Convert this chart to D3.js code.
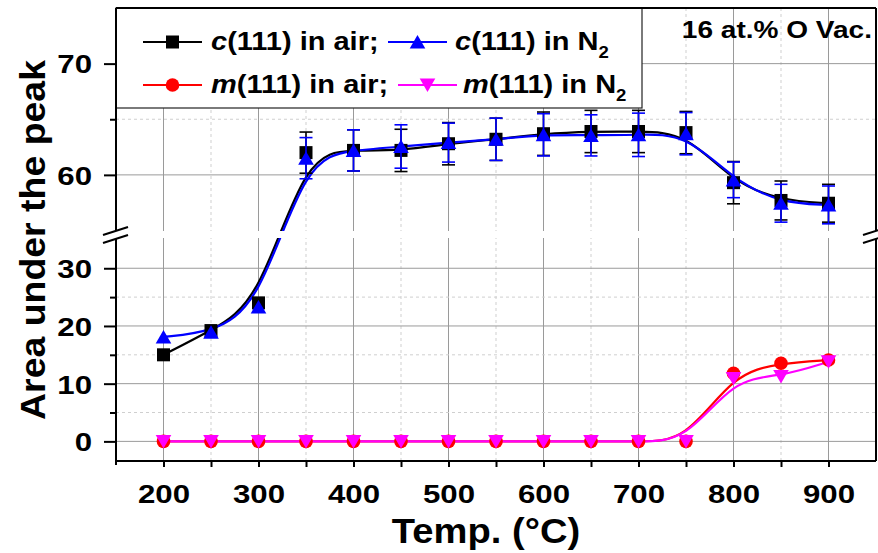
<!DOCTYPE html>
<html>
<head>
<meta charset="utf-8">
<script src="https://cdn.jsdelivr.net/npm/d3@7/dist/d3.min.js"></script>
<style>
  body { margin: 0; background: #fff; }
  text { font-family: "Liberation Sans", Arial, sans-serif; font-weight: bold; fill: #000; }
</style>
</head>
<body>
<div id="chart"></div>
<script>
// data
const temps  = [200, 250, 300, 350, 400, 450, 500, 550, 600, 650, 700, 750, 800, 850, 900];
const cAir    = [15, 19.2, 24, 62, 62.2, 62.2, 62.8, 63.2, 63.7, 63.9, 63.9, 63.8, 59.3, 57.7, 57.45];
const cAirErr = [0, 0, 0, 1.85, 1.85, 1.9, 1.9, 1.9, 1.95, 1.9, 1.9, 1.9, 1.9, 1.75, 1.7];
const cN2     = [18.1, 18.9, 23.3, 61.5, 62.2, 62.55, 62.9, 63.2, 63.6, 63.55, 63.6, 63.7, 59.55, 57.45, 57.3];
const cN2Err  = [0, 0, 0, 1.85, 1.85, 1.95, 1.75, 1.9, 1.9, 1.85, 1.95, 1.9, 1.6, 1.7, 1.7];
const mAir    = [0, 0, 0, 0, 0, 0, 0, 0, 0, 0, 0, 0, 11.8, 13.55, 14.1];
const mN2     = [0, 0, 0, 0, 0, 0, 0, 0, 0, 0, 0, 0, 10.9, 11.25, 13.8];

const xMajor = [200, 300, 400, 500, 600, 700, 800, 900];
const xMinor = [250, 350, 450, 550, 650, 750, 850];
const yMajorLow  = [0, 10, 20, 30];
const yMinorLow  = [5, 15, 25];
const yMajorHigh = [60, 70];
const yMinorHigh = [65];

const WIDTH = 878, HEIGHT = 553;
const P = {left: 116, right: 876, top: 8, bottom: 461, gapTop: 231, gapBottom: 238};
const SX = 1.2; // text in the original is drawn a bit wide

const svg = d3.select("#chart").append("svg")
    .attr("width", WIDTH)
    .attr("height", HEIGHT);

const x = d3.scaleLinear().domain([150, 950]).range([P.left, P.right]);
// broken y axis: two linear pieces
const yLow  = d3.scaleLinear().domain([-3.4, 35]).range([P.bottom, 239.4]);
const yHigh = d3.scaleLinear().domain([55, 75]).range([230.5, P.top]);
const y = v => v >= 45 ? yHigh(v) : yLow(v);

// grid
const grid = svg.append("g");
grid.selectAll(".vmaj").data(xMajor).enter().append("line")
    .attr("x1", d => x(d)).attr("x2", d => x(d))
    .attr("y1", P.top).attr("y2", P.bottom)
    .attr("stroke", "#9a9a9a").attr("stroke-width", 1);
grid.selectAll(".vmin").data(xMinor).enter().append("line")
    .attr("x1", d => x(d)).attr("x2", d => x(d))
    .attr("y1", P.top).attr("y2", P.bottom)
    .attr("stroke", "#cfcfcf").attr("stroke-width", 1).attr("stroke-dasharray", "3,3");
grid.selectAll(".hmaj").data(yMajorLow.map(yLow).concat(yMajorHigh.map(yHigh))).enter().append("line")
    .attr("x1", P.left).attr("x2", P.right)
    .attr("y1", d => d).attr("y2", d => d)
    .attr("stroke", "#9a9a9a").attr("stroke-width", 1);
grid.selectAll(".hmin").data(yMinorLow.map(yLow).concat(yMinorHigh.map(yHigh))).enter().append("line")
    .attr("x1", P.left).attr("x2", P.right)
    .attr("y1", d => d).attr("y2", d => d)
    .attr("stroke", "#cfcfcf").attr("stroke-width", 1).attr("stroke-dasharray", "3,3");

const series = [
  {values: cAir, err: cAirErr, color: "#000000", shape: "square"},
  {values: cN2,  err: cN2Err,  color: "#0000ff", shape: "up"},
  {values: mAir, err: null,    color: "#ff0000", shape: "circle"},
  {values: mN2,  err: null,    color: "#ff00ff", shape: "down"}
];

// smoothed lines (B-spline in screen space)
const line = d3.line().x(d => x(d[0])).y(d => y(d[1])).curve(d3.curveBasis);
series.forEach(s => {
  svg.append("path")
      .datum(temps.map((t, i) => [t, s.values[i]]))
      .attr("fill", "none")
      .attr("stroke", s.color)
      .attr("stroke-width", 2.2)
      .attr("d", line);
});

// the axis break gap
svg.append("rect")
    .attr("x", P.left + 1).attr("y", P.gapTop)
    .attr("width", P.right - P.left - 2).attr("height", P.gapBottom - P.gapTop)
    .attr("fill", "#fff");

function drawMarker(g, shape, cx, cy, color) {
  if (shape === "square") {
    g.append("rect").attr("x", cx - 6.5).attr("y", cy - 6.5)
        .attr("width", 13).attr("height", 13).attr("fill", color);
  } else if (shape === "circle") {
    g.append("circle").attr("cx", cx).attr("cy", cy).attr("r", 6.8).attr("fill", color);
  } else if (shape === "up") {
    g.append("path").attr("d", `M${cx},${cy - 7}L${cx + 7.8},${cy + 6.5}L${cx - 7.8},${cy + 6.5}Z`)
        .attr("fill", color);
  } else {
    g.append("path").attr("d", `M${cx},${cy + 7}L${cx + 7.8},${cy - 6.5}L${cx - 7.8},${cy - 6.5}Z`)
        .attr("fill", color);
  }
}

// error bars + markers
series.forEach(s => {
  const g = svg.append("g");
  temps.forEach((t, i) => {
    const cx = x(t), v = s.values[i];
    if (s.err && s.err[i] > 0) {
      const y1 = y(v + s.err[i]), y2 = y(v - s.err[i]);
      g.append("line").attr("x1", cx).attr("x2", cx).attr("y1", y1).attr("y2", y2)
          .attr("stroke", s.color).attr("stroke-width", 1.6);
      [y1, y2].forEach(yy => g.append("line")
          .attr("x1", cx - 6.5).attr("x2", cx + 6.5).attr("y1", yy).attr("y2", yy)
          .attr("stroke", s.color).attr("stroke-width", 1.6));
    }
    drawMarker(g, s.shape, cx, y(v), s.color);
  });
});

// legend
const legend = svg.append("g");
legend.append("rect")
    .attr("x", P.left).attr("y", P.top)
    .attr("width", 642 - P.left).attr("height", 108 - P.top)
    .attr("fill", "#fff").attr("stroke", "#222").attr("stroke-width", 1.2);

const legendItems = [
  {s: series[0], lx: 143, ly: 42, tx: 211, ty: 50, letter: "c", rest: "(111) in air;", sub: false},
  {s: series[1], lx: 388, ly: 42, tx: 455, ty: 50, letter: "c", rest: "(111) in N", sub: true},
  {s: series[2], lx: 143, ly: 85, tx: 211, ty: 93, letter: "m", rest: "(111) in air;", sub: false},
  {s: series[3], lx: 398, ly: 85, tx: 463, ty: 93, letter: "m", rest: "(111) in N", sub: true}
];
legendItems.forEach(it => {
  legend.append("line").attr("x1", it.lx).attr("x2", it.lx + 59)
      .attr("y1", it.ly).attr("y2", it.ly)
      .attr("stroke", it.s.color).attr("stroke-width", 2.2);
  drawMarker(legend, it.s.shape, it.lx + 29.5, it.ly, it.s.color);
  const t = legend.append("text")
      .attr("transform", `translate(${it.tx},${it.ty}) scale(1.16,1)`)
      .attr("font-size", 25);
  t.append("tspan").attr("font-style", "italic").text(it.letter);
  t.append("tspan").text(it.rest);
  if (it.sub) t.append("tspan").attr("font-size", 16).attr("dy", 8).text("2");
});

// annotation
svg.append("text")
    .attr("transform", `translate(872,38) scale(1.22,1)`)
    .attr("text-anchor", "end")
    .attr("font-size", 23)
    .text("16 at.% O Vac.");

// axes
const xAxis = svg.append("g").attr("transform", `translate(0,${P.bottom})`)
    .call(d3.axisBottom(x).tickValues(xMajor).tickSize(6).tickFormat(d3.format("d")));
svg.append("g").attr("transform", `translate(0,${P.bottom})`)
    .call(d3.axisBottom(x).tickValues(xMinor).tickSize(6).tickFormat(""));
xAxis.selectAll("text").attr("y", 0).attr("dy", 0)
    .attr("transform", `translate(0,42) scale(${SX},1)`)
    .attr("font-size", 26).attr("font-family", null);

const yAxisLow = svg.append("g").attr("transform", `translate(${P.left},0)`)
    .call(d3.axisLeft(yLow).tickValues(yMajorLow).tickSize(12).tickFormat(d3.format("d")));
const yAxisHigh = svg.append("g").attr("transform", `translate(${P.left},0)`)
    .call(d3.axisLeft(yHigh).tickValues(yMajorHigh).tickSize(12).tickFormat(d3.format("d")));
svg.append("g").attr("transform", `translate(${P.left},0)`)
    .call(d3.axisLeft(yLow).tickValues(yMinorLow).tickSize(6).tickFormat(""));
svg.append("g").attr("transform", `translate(${P.left},0)`)
    .call(d3.axisLeft(yHigh).tickValues(yMinorHigh).tickSize(6).tickFormat(""));
[yAxisLow, yAxisHigh].forEach(a => a.selectAll("text")
    .attr("x", 0).attr("dy", "0.36em")
    .attr("transform", `translate(-24,0) scale(${SX},1)`)
    .attr("font-size", 26).attr("font-family", null));

svg.selectAll(".domain").remove();
svg.selectAll(".tick line").attr("stroke", "#000").attr("stroke-width", 2);
svg.selectAll(".tick text").attr("fill", "#000");

// frame
const frame = svg.append("g").attr("stroke", "#000").attr("stroke-width", 2).attr("fill", "none");
frame.append("line").attr("x1", P.left).attr("x2", P.right).attr("y1", P.bottom).attr("y2", P.bottom);
frame.append("line").attr("x1", P.left).attr("x2", P.right).attr("y1", P.top).attr("y2", P.top);
frame.append("line").attr("x1", P.left).attr("x2", P.left).attr("y1", P.top).attr("y2", P.bottom + 4);
frame.append("line").attr("x1", P.right).attr("x2", P.right).attr("y1", P.top).attr("y2", P.bottom);

// break marks
[P.left, P.right].forEach(bx => {
  svg.append("path")
      .attr("d", `M${bx - 13},${235}L${bx + 12},${227}L${bx + 12},${235}L${bx - 13},${243}Z`)
      .attr("fill", "#fff");
  svg.append("line").attr("x1", bx - 13).attr("y1", 235).attr("x2", bx + 12).attr("y2", 227)
      .attr("stroke", "#000").attr("stroke-width", 2);
  svg.append("line").attr("x1", bx - 13).attr("y1", 243).attr("x2", bx + 12).attr("y2", 235)
      .attr("stroke", "#000").attr("stroke-width", 2);
});

// axis titles
svg.append("text")
    .attr("transform", "translate(486,543) scale(1.09,1)")
    .attr("text-anchor", "middle")
    .attr("font-size", 35)
    .text("Temp. (°C)");
svg.append("text")
    .attr("transform", "translate(45,240) rotate(-90) scale(1.07,1)")
    .attr("text-anchor", "middle")
    .attr("font-size", 35)
    .text("Area under the peak");
</script>
</body>
</html>
